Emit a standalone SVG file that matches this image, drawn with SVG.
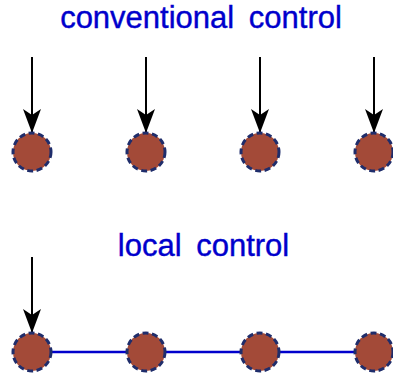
<svg xmlns="http://www.w3.org/2000/svg" width="393" height="379" viewBox="0 0 393 379">
  <style>
    .title { font-family: "Liberation Sans", Arial, sans-serif; font-size: 31px; fill: #0000cc; stroke: #0000cc; stroke-width: 0.4; text-anchor: middle; word-spacing: 6px; }
    .node { fill: #a34a38; stroke: #1f2d6b; stroke-width: 3; stroke-dasharray: 6 3.5; }
    .arrow { stroke: #000; stroke-width: 2; fill: none; }
    .link { stroke: #0000cc; stroke-width: 2.5; fill: none; }
  </style>
  <defs>
    <marker id="head" markerUnits="userSpaceOnUse" viewBox="0 0 24 18" refX="24" refY="9" markerWidth="24" markerHeight="18" orient="auto">
      <path d="M0,0 L24,9 L0,18 L6,9 Z" fill="#000"/>
    </marker>
  </defs>

  <text class="title" x="201" y="28">conventional control</text>
  <text class="title" x="203.5" y="256">local control</text>

  <g id="connectors">
    <line class="arrow" x1="32" y1="57" x2="32" y2="133" marker-end="url(#head)"/>
    <line class="arrow" x1="146" y1="57" x2="146" y2="133" marker-end="url(#head)"/>
    <line class="arrow" x1="260" y1="57" x2="260" y2="133" marker-end="url(#head)"/>
    <line class="arrow" x1="374" y1="57" x2="374" y2="133" marker-end="url(#head)"/>
    <line class="arrow" x1="32" y1="257" x2="32" y2="333" marker-end="url(#head)"/>
    <line class="link" x1="32" y1="352" x2="374" y2="352"/>
  </g>

  <g id="conv-1"><circle class="node" cx="32" cy="152" r="19"/></g>
  <g id="conv-2"><circle class="node" cx="146" cy="152" r="19"/></g>
  <g id="conv-3"><circle class="node" cx="260" cy="152" r="19"/></g>
  <g id="conv-4"><circle class="node" cx="374" cy="152" r="19"/></g>

  <g id="local-1"><circle class="node" cx="32" cy="352" r="19"/></g>
  <g id="local-2"><circle class="node" cx="146" cy="352" r="19"/></g>
  <g id="local-3"><circle class="node" cx="260" cy="352" r="19"/></g>
  <g id="local-4"><circle class="node" cx="374" cy="352" r="19"/></g>
</svg>
